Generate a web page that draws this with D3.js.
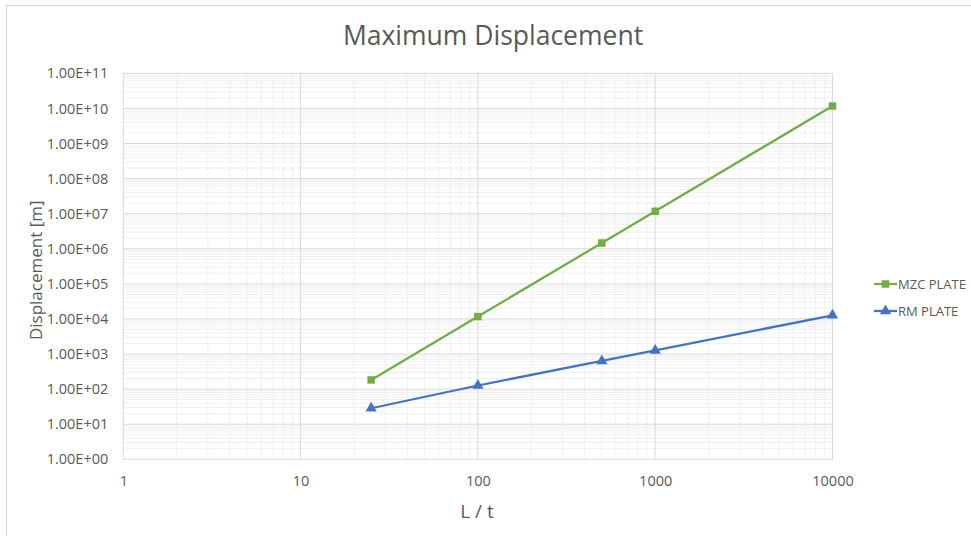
<!DOCTYPE html>
<html>
<head>
<meta charset="utf-8">
<script src="https://cdn.jsdelivr.net/npm/d3@7"></script>
<style>
  html, body { margin: 0; padding: 0; background: #fff; }
  svg { display: block; font-family: "Open Sans", "Noto Sans", sans-serif; }
</style>
</head>
<body>
<svg id="chart" width="971" height="536"></svg>
<script>
// L/t ratios and maximum displacement [m] for both plate formulations
const ratios = [25, 100, 500, 1000, 10000];
const mzcPlate = [183, 1.17e4, 1.46e6, 1.17e7, 1.17e10];
const rmPlate = [28.5, 127, 635, 1270, 12700];
const seriesNames = ["MZC PLATE", "RM PLATE"];
const xTickValues = [1, 10, 100, 1000, 10000];
const yTickValues = [1e0, 1e1, 1e2, 1e3, 1e4, 1e5, 1e6, 1e7, 1e8, 1e9, 1e10, 1e11];

const svg = d3.select("#chart");
const W = 971, H = 536;
const plot = { left: 123.3, right: 832.5, top: 73.3, bottom: 459.3 };

const textColor = "#595959";
const majorGrid = "#d9d9d9";
const minorGrid = "#f0f0f0";
const colors = ["#70ad47", "#4472c4"];

// outer chart frame (extends past the visible edges)
svg.append("rect")
  .attr("x", 6.5).attr("y", 5.5)
  .attr("width", W + 20).attr("height", H + 20)
  .attr("fill", "#fff").attr("stroke", "#d9d9d9").attr("stroke-width", 1.3);

const x = d3.scaleLog().domain([1, 10000]).range([plot.left, plot.right]);
const y = d3.scaleLog().domain([1, 1e11]).range([plot.bottom, plot.top]);

// minor grid values: 2..9 within each decade
const xMinor = [];
for (let d = 1; d < 10000; d *= 10) for (let k = 2; k <= 9; k++) xMinor.push(d * k);
const yMinor = [];
for (let d = 1; d < 1e11; d *= 10) for (let k = 2; k <= 9; k++) yMinor.push(d * k);

const grid = svg.append("g");
grid.selectAll(".xminor").data(xMinor).join("line")
  .attr("x1", d => x(d)).attr("x2", d => x(d))
  .attr("y1", plot.top).attr("y2", plot.bottom)
  .attr("stroke", minorGrid).attr("stroke-width", 1);
grid.selectAll(".yminor").data(yMinor).join("line")
  .attr("x1", plot.left).attr("x2", plot.right)
  .attr("y1", d => y(d)).attr("y2", d => y(d))
  .attr("stroke", minorGrid).attr("stroke-width", 1);
grid.selectAll(".xmajor").data(xTickValues).join("line")
  .attr("x1", d => x(d)).attr("x2", d => x(d))
  .attr("y1", plot.top).attr("y2", plot.bottom)
  .attr("stroke", majorGrid).attr("stroke-width", 1);
grid.selectAll(".ymajor").data(yTickValues).join("line")
  .attr("x1", plot.left).attr("x2", plot.right)
  .attr("y1", d => y(d)).attr("y2", d => y(d))
  .attr("stroke", majorGrid).attr("stroke-width", 1);

// axes (labels only, lines are drawn by the grid)
const fmtY = d => {
  const e = Math.round(Math.log10(d));
  return "1.00E+" + String(e).padStart(2, "0");
};
const yAxis = svg.append("g")
  .attr("transform", `translate(${plot.left},0)`)
  .call(d3.axisLeft(y).tickValues(yTickValues).tickFormat(fmtY).tickSize(0).tickPadding(15));
const xAxis = svg.append("g")
  .attr("transform", `translate(0,${plot.bottom})`)
  .call(d3.axisBottom(x).tickValues(xTickValues).tickFormat(d3.format("d")).tickSize(0).tickPadding(16));
[yAxis, xAxis].forEach(a => {
  a.select(".domain").remove();
  a.selectAll("text").attr("fill", textColor).style("font-size", "14.5px")
    .style("font-family", "'Open Sans', sans-serif");
});

// series lines and markers
const series = [mzcPlate, rmPlate];
const line = d3.line().x(d => x(d[0])).y(d => y(d[1]));
const symbols = [d3.symbolSquare, d3.symbolTriangle];
const symbolSizes = [56, 55];

series.forEach((vals, i) => {
  const pts = ratios.map((r, j) => [r, vals[j]]);
  svg.append("path").datum(pts)
    .attr("d", line).attr("fill", "none")
    .attr("stroke", colors[i]).attr("stroke-width", 2.25);
  svg.append("g").selectAll("path").data(pts).join("path")
    .attr("transform", d => `translate(${x(d[0])},${y(d[1])})`)
    .attr("d", d3.symbol().type(symbols[i]).size(symbolSizes[i]))
    .attr("fill", colors[i]);
});

// title
svg.append("text")
  .attr("x", 493).attr("y", 45)
  .attr("text-anchor", "middle").attr("fill", textColor)
  .style("font-size", "26.5px")
  .text("Maximum Displacement");

// axis titles
svg.append("text")
  .attr("x", 477).attr("y", 518)
  .attr("text-anchor", "middle").attr("fill", textColor)
  .style("font-size", "19px")
  .text("L / t");
svg.append("text")
  .attr("transform", `translate(42,${(plot.top + plot.bottom) / 2 + 4}) rotate(-90)`)
  .attr("text-anchor", "middle").attr("fill", textColor)
  .style("font-size", "17px")
  .text("Displacement [m]");

// legend
const legend = svg.append("g");
seriesNames.forEach((name, i) => {
  const ly = 284 + i * 27;
  legend.append("line")
    .attr("x1", 874).attr("x2", 897).attr("y1", ly).attr("y2", ly)
    .attr("stroke", colors[i]).attr("stroke-width", 2.25);
  legend.append("path")
    .attr("transform", `translate(885.5,${ly})`)
    .attr("d", d3.symbol().type(symbols[i]).size(symbolSizes[i]))
    .attr("fill", colors[i]);
  legend.append("text")
    .attr("x", 898).attr("y", ly + 5)
    .attr("fill", textColor).style("font-size", "13px")
    .text(name);
});
</script>
</body>
</html>
